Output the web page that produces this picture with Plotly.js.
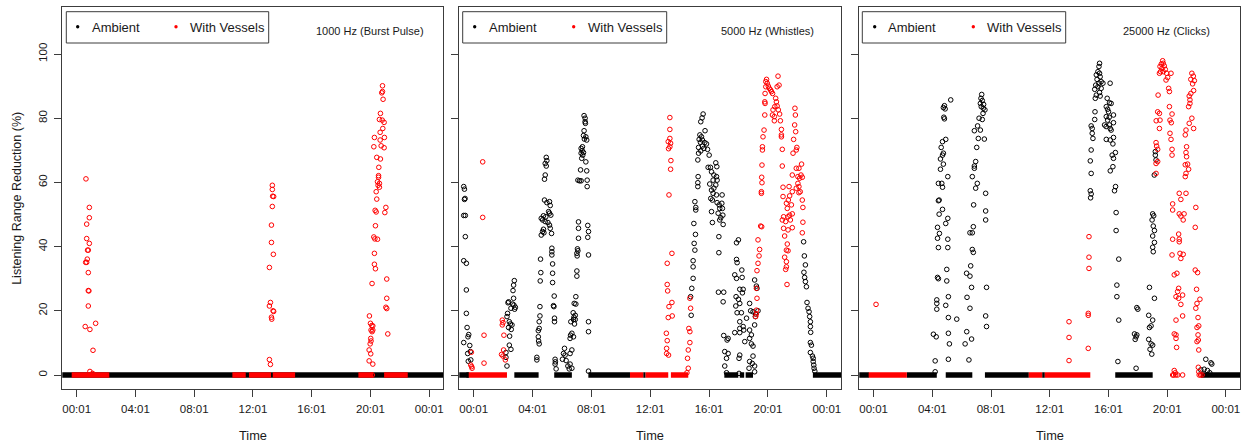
<!DOCTYPE html>
<html>
<head>
<meta charset="utf-8">
<script src="https://cdn.plot.ly/plotly-3.0.1.min.js"></script>
<style>
  html, body { margin: 0; padding: 0; background: #fff; }
  #chart { width: 1243px; height: 446px; }
</style>
</head>
<body>
<div id="chart"></div>
<script>
// Time axis: decimal hours of the day; values: listening range reduction (%)
const tickHours = [0.0167, 4.0167, 8.0167, 12.0167, 16.0167, 20.0167, 24.0167];
const tickLabels = ['00:01', '04:01', '08:01', '12:01', '16:01', '20:01', '00:01'];
const yTicks = [0, 20, 40, 60, 80, 100];
const panelTitles = ['1000 Hz (Burst Pulse)', '5000 Hz (Whistles)', '25000 Hz (Clicks)'];
const seriesNames = ['Ambient', 'With Vessels'];

// ---- 1000 Hz (burst pulse) ----
// stretches of time where the reduction stays at 0 %, as [start, end] hours
const burstAmbientZero = [[-1, 25]];
const burstVesselZero = [[-0.32, 2.24], [10.62, 11.53], [11.75, 13.25], [13.37, 14.89], [19.2, 20.22], [20.95, 22.56]];
const burstAmbientPts = [];
const burstVesselPts = [
  [0.65, 61.1], [0.88, 52.2], [0.88, 49.0], [0.70, 47.0], [0.70, 42.5], [0.88, 41.0], [0.76, 38.9], [0.81, 38.9],
  [0.74, 36.1], [0.63, 35.1], [0.70, 35.1], [0.81, 31.9], [0.81, 26.3], [0.85, 26.2], [0.81, 21.5], [0.60, 15.1],
  [0.92, 14.2], [1.31, 16.1], [1.13, 7.7], [0.92, 1.1], [1.10, 0.5],
  [13.34, 59.1], [13.34, 57.8], [13.36, 55.7], [13.43, 55.6], [13.34, 52.5], [13.28, 46.7], [13.28, 41.3],
  [13.41, 37.6], [13.14, 33.5], [13.21, 22.6], [13.14, 21.5], [13.39, 20.0], [13.43, 19.8], [13.28, 18.0],
  [13.30, 17.4], [13.14, 4.8], [13.21, 3.3],
  [20.84, 90.1], [20.84, 88.3], [20.79, 87.9], [20.88, 85.9], [20.70, 81.5], [20.63, 79.6], [20.82, 79.4],
  [20.95, 78.7], [20.86, 76.8], [20.68, 75.6], [20.29, 74.0], [20.97, 74.0], [20.68, 73.2], [20.25, 71.1],
  [20.75, 71.4], [20.95, 70.8], [20.45, 67.8], [20.70, 67.3], [20.59, 64.7], [20.57, 62.1], [20.57, 61.6],
  [20.50, 60.2], [20.63, 59.7], [20.54, 59.1], [20.63, 58.5], [20.41, 57.1], [20.45, 54.8], [21.07, 52.2],
  [20.34, 51.3], [20.41, 50.8], [21.00, 50.6], [20.36, 46.5], [20.25, 43.0], [20.32, 42.4], [20.50, 42.3],
  [20.29, 37.9], [20.29, 34.5], [20.36, 33.1], [21.13, 29.9], [20.13, 28.5], [21.13, 23.9], [21.07, 21.1],
  [21.13, 20.7], [19.95, 18.4], [20.02, 16.1], [20.11, 15.4], [20.18, 15.3], [20.06, 14.0], [20.13, 13.5],
  [20.18, 14.0], [21.20, 12.8], [20.04, 11.4], [20.06, 10.6], [20.00, 9.7], [19.93, 7.8], [20.04, 6.6],
  [19.93, 4.4], [20.18, 3.4], [20.15, 0.0]
];

// ---- 5000 Hz (whistles) ----
const whistleAmbientZero = [[-1, -0.3], [2.78, 4.43], [5.49, 6.69], [7.81, 10.64], [11.54, 11.70], [17.05, 18.0], [18.1, 18.4], [18.5, 19.0], [23.07, 25]];
const whistleVesselZero = [[-0.32, 2.28], [10.64, 11.54], [11.70, 13.24], [13.42, 14.60]];
const whistleAmbientPts = [
  [-0.66, 58.7], [-0.61, 57.9], [-0.57, 55.0], [-0.61, 54.7], [-0.66, 49.7], [-0.55, 49.7], [-0.55, 43.1],
  [-0.66, 35.6], [-0.48, 34.8], [-0.48, 26.5], [-0.48, 19.2], [-0.43, 14.8], [-0.32, 12.6], [-0.37, 11.9],
  [-0.66, 10.1], [-0.25, 9.2], [-0.39, 6.7], [-0.21, 7.3], [-0.35, 4.3], [-0.18, 4.7], [-0.39, 0.0],
  [2.78, 29.4], [2.73, 28.0], [2.69, 26.3], [2.73, 23.9], [2.66, 22.1], [2.75, 21.8], [2.85, 21.1], [2.80, 20.5],
  [2.55, 20.8], [2.35, 22.5], [2.39, 22.8], [2.32, 19.2], [2.28, 18.2], [2.44, 16.6], [2.51, 15.9], [2.62, 15.6],
  [2.39, 14.8], [2.57, 14.2], [2.46, 12.1], [2.44, 9.3], [2.55, 8.0], [2.21, 7.0], [2.21, 5.5], [2.28, 2.8],
  [4.95, 67.8], [4.99, 66.8], [4.88, 65.9], [4.95, 65.1], [4.88, 62.3], [4.83, 61.0], [4.83, 54.5], [4.99, 53.7],
  [5.17, 54.0], [5.22, 52.8], [5.11, 50.9], [5.17, 50.4], [4.76, 49.6], [4.92, 49.3], [4.61, 48.8], [4.70, 48.3],
  [4.88, 47.8], [5.06, 47.5], [5.26, 49.8], [5.17, 46.7], [4.76, 45.4], [4.70, 44.7], [5.22, 45.7], [4.61, 43.6],
  [4.79, 44.3], [5.31, 44.1], [5.33, 39.5], [5.33, 38.4], [5.33, 37.4], [5.38, 34.6], [5.38, 31.7], [5.38, 28.8],
  [5.49, 24.6], [5.44, 21.6], [5.47, 21.3], [5.51, 17.7], [5.51, 16.6], [4.56, 36.1], [4.58, 31.9], [4.54, 29.3],
  [4.52, 21.3], [4.52, 18.4], [4.47, 16.6], [4.47, 14.5], [4.41, 13.8], [4.41, 11.9], [4.43, 10.6], [4.47, 9.7],
  [4.31, 5.5], [4.31, 4.7], [5.55, 4.9], [5.57, 4.1], [5.55, 3.4], [5.62, 1.9],
  [7.52, 80.8], [7.59, 80.0], [7.59, 78.9], [7.61, 78.4], [7.52, 76.1], [7.48, 74.6], [7.64, 74.2], [7.54, 73.5],
  [7.70, 73.2], [7.41, 71.1], [7.32, 70.6], [7.39, 69.9], [7.32, 69.1], [7.48, 69.3], [7.43, 68.5], [7.36, 67.5],
  [7.64, 66.4], [7.28, 63.9], [7.70, 63.6], [7.10, 60.7], [7.21, 60.5], [7.32, 60.5], [7.73, 60.7], [7.73, 58.7],
  [7.14, 47.7], [7.14, 45.7], [7.77, 46.6], [7.82, 44.7], [7.77, 42.9], [7.14, 42.6], [7.07, 39.3], [7.10, 38.7],
  [7.03, 37.9], [7.05, 37.1], [7.82, 37.4], [7.03, 32.4], [7.03, 30.8], [6.96, 24.4], [6.85, 22.3], [6.96, 22.1],
  [6.78, 19.4], [6.92, 18.6], [6.83, 18.0], [6.80, 17.3], [6.92, 17.3], [6.62, 16.6], [6.87, 15.9], [6.69, 13.0],
  [6.60, 12.4], [6.80, 11.9], [6.57, 11.4], [6.69, 7.8], [6.57, 6.7], [6.19, 8.3], [6.12, 6.7], [6.23, 6.2],
  [6.05, 4.9], [6.30, 4.5], [6.57, 3.4], [6.42, 2.8], [6.51, 1.9], [6.69, 2.1], [7.82, 16.6], [7.82, 13.5], [7.82, 1.2],
  [15.61, 81.3], [15.54, 80.1], [15.45, 78.9], [15.74, 76.1], [15.39, 74.8], [15.50, 74.2], [15.34, 73.4],
  [15.56, 73.2], [15.43, 72.5], [15.72, 72.4], [15.84, 72.0], [15.56, 71.3], [15.30, 70.9], [15.66, 70.6],
  [15.91, 70.3], [15.45, 69.8], [16.02, 68.5], [15.30, 69.1], [15.25, 67.0], [15.95, 64.7], [16.11, 64.7],
  [16.47, 66.1], [16.54, 64.9], [15.27, 61.8], [16.18, 63.3], [16.34, 62.3], [16.52, 61.8], [16.29, 60.7],
  [16.56, 60.7], [15.25, 59.9], [16.06, 59.5], [16.47, 59.2], [15.25, 58.7], [16.18, 57.6], [16.34, 58.2],
  [16.29, 56.6], [16.90, 56.1], [16.52, 56.1], [16.13, 55.0], [16.24, 54.5], [16.56, 53.7], [15.05, 54.0],
  [16.70, 53.0], [16.88, 53.5], [15.11, 52.2], [15.11, 51.4], [16.74, 51.9], [16.92, 51.9], [16.18, 50.9],
  [16.63, 50.4], [16.95, 49.8], [16.81, 49.0], [16.74, 48.3], [16.24, 47.5], [16.97, 46.9], [14.98, 47.2],
  [15.09, 43.8], [15.00, 41.0], [16.68, 43.1], [16.68, 38.1], [15.05, 38.9], [14.93, 35.6], [14.93, 33.7],
  [14.93, 30.1], [14.84, 27.0], [14.76, 24.4], [14.80, 18.6], [16.65, 25.8], [17.01, 25.8], [16.97, 22.8],
  [18.01, 42.1], [17.88, 41.2], [17.88, 36.0], [17.92, 35.0], [18.24, 32.7], [17.76, 31.2], [17.88, 30.1],
  [18.26, 30.4], [18.10, 26.7], [18.33, 26.7], [18.28, 25.6], [17.85, 24.4], [18.01, 23.6], [18.10, 22.3],
  [17.83, 21.5], [18.77, 22.3], [18.84, 20.0], [18.21, 19.4], [17.92, 19.4], [19.16, 18.2], [18.10, 16.6],
  [18.56, 17.7], [19.11, 15.6], [18.33, 15.1], [18.10, 14.5], [18.37, 14.0], [18.77, 14.0], [17.76, 13.2],
  [18.10, 13.2], [18.89, 12.5], [17.01, 12.3], [17.31, 11.4], [17.24, 10.9], [18.77, 11.4], [18.44, 10.4],
  [18.89, 9.7], [19.00, 9.0], [17.08, 7.3], [17.31, 6.7], [18.10, 6.2], [17.20, 5.2], [18.05, 5.2], [19.00, 5.9],
  [18.77, 4.2], [18.95, 3.6], [17.08, 2.8], [18.73, 2.1], [19.11, 2.8], [17.20, 0.7], [18.05, 0.5], [19.11, 1.0],
  [19.11, 29.6], [19.23, 27.7], [19.27, 27.0], [19.00, 19.7], [19.34, 20.0], [19.18, 19.0],
  [22.44, 41.5], [22.49, 37.1], [22.56, 34.3], [22.46, 32.0], [22.51, 30.4], [22.56, 29.1], [22.63, 27.5],
  [22.67, 22.6], [22.74, 20.8], [22.81, 19.7], [22.85, 18.2], [22.90, 16.6], [22.90, 15.1], [22.92, 13.3],
  [22.90, 10.1], [22.97, 9.3], [22.90, 7.0], [23.04, 5.9], [23.09, 5.2], [23.09, 4.2], [23.13, 3.1],
  [23.15, 2.1], [23.20, 1.2]
];
const whistleVesselPts = [
  [-0.14, 7.1], [-0.18, 3.1], [-0.12, 2.6], [-0.09, 2.1], [0.63, 66.4], [0.63, 49.1], [0.72, 12.4], [0.72, 3.7],
  [1.96, 17.1], [2.01, 16.3], [1.96, 15.6], [2.07, 12.4], [2.05, 7.8], [1.91, 6.4], [2.01, 5.9], [2.17, 4.7],
  [13.35, 80.2], [13.35, 76.5], [13.35, 73.7], [13.24, 72.7], [13.40, 72.2], [13.35, 71.1], [13.26, 70.5],
  [13.42, 66.8], [13.40, 64.1], [13.29, 56.1], [13.49, 37.9], [13.17, 34.8], [13.17, 28.2], [13.20, 26.2],
  [13.49, 22.6], [13.29, 21.3], [13.51, 18.4], [13.24, 17.9], [13.11, 13.0], [13.17, 10.7], [13.13, 8.3],
  [13.13, 6.7], [13.26, 6.2],
  [14.71, 23.9], [14.76, 20.8], [14.64, 14.5], [14.71, 13.5], [14.71, 10.1], [14.60, 7.8], [14.55, 5.2],
  [14.60, 2.1], [14.51, 0.7],
  [19.92, 92.1], [19.87, 91.4], [19.97, 90.9], [20.04, 90.0], [20.11, 89.3], [20.20, 88.8], [20.25, 88.3],
  [20.33, 87.7], [20.70, 93.1], [20.77, 90.3], [20.64, 89.8], [19.87, 89.8], [19.82, 87.7], [19.80, 85.1],
  [19.82, 84.6], [20.54, 86.2], [20.59, 85.1], [20.64, 83.8], [20.48, 83.6], [20.36, 82.6], [20.72, 82.6],
  [20.32, 81.0], [20.45, 80.5], [20.81, 81.3], [20.45, 79.2], [19.80, 81.0], [20.86, 79.2], [21.85, 83.1],
  [21.88, 81.0], [21.83, 77.9], [21.90, 75.8], [19.75, 76.3], [19.68, 74.2], [20.93, 76.5], [20.93, 74.8],
  [20.93, 74.2], [21.76, 73.4], [21.98, 70.9], [21.94, 70.1], [19.64, 71.1], [19.64, 70.1], [20.99, 70.3],
  [21.72, 69.1], [19.61, 65.4], [20.99, 65.1], [22.30, 65.7], [21.94, 64.4], [22.12, 64.4], [22.26, 62.3],
  [22.05, 61.8], [22.17, 61.3], [22.35, 61.6], [21.67, 62.3], [19.59, 61.6], [19.61, 59.9], [22.05, 59.7],
  [22.12, 58.7], [21.04, 58.5], [21.45, 58.7], [21.94, 58.2], [21.67, 57.1], [22.21, 57.1], [21.04, 55.6],
  [21.49, 55.8], [22.12, 56.8], [19.57, 57.1], [19.57, 56.6], [21.40, 54.5], [22.35, 54.5], [21.27, 53.5],
  [21.61, 53.0], [21.33, 51.9], [22.39, 52.2], [21.08, 49.3], [21.38, 49.3], [21.49, 49.8], [21.67, 50.2],
  [20.99, 48.3], [21.22, 47.8], [21.54, 48.3], [22.39, 47.6], [19.59, 46.2], [19.52, 46.4], [21.08, 45.7],
  [21.38, 45.2], [21.67, 45.9], [21.15, 43.3], [22.35, 44.3], [21.33, 40.8], [19.34, 42.1], [21.27, 38.9],
  [21.38, 38.7], [19.45, 39.1], [19.41, 37.1], [21.15, 36.7], [21.27, 35.3], [21.27, 33.7], [21.22, 32.9],
  [21.31, 28.2], [19.34, 34.8], [19.27, 32.5], [19.23, 27.0], [19.27, 23.9], [19.23, 20.2], [19.23, 19.0],
  [19.18, 18.2]
];

// ---- 25000 Hz (clicks) ----
const clickAmbientZero = [[-1, -0.3], [2.28, 4.32], [4.93, 6.74], [7.60, 10.59], [11.50, 11.68], [16.48, 19.03], [22.32, 25]];
const clickVesselZero = [[-0.32, 2.28], [10.59, 11.50], [11.68, 14.78]];
const clickAmbientPts = [
  [5.27, 85.7], [4.84, 83.9], [4.77, 83.3], [4.89, 82.9], [4.80, 80.3], [4.84, 79.8], [4.93, 73.4], [4.71, 72.7],
  [4.62, 70.9], [4.77, 69.1], [4.71, 68.5], [4.57, 67.3], [4.77, 65.7], [4.57, 64.1], [5.07, 61.8], [4.43, 59.7],
  [4.66, 59.7], [4.71, 58.5], [4.48, 54.5], [4.43, 54.3], [4.71, 51.6], [5.07, 48.8], [4.48, 50.1], [4.93, 47.2],
  [4.37, 46.0], [4.50, 44.1], [5.07, 42.3], [4.37, 42.6], [4.43, 39.7], [5.07, 39.7], [5.00, 32.9], [4.37, 30.4],
  [4.43, 30.0], [5.00, 29.3], [5.11, 24.4], [4.32, 23.4], [4.32, 22.3], [4.93, 21.7], [4.32, 20.5], [5.11, 17.9],
  [5.68, 17.4], [4.09, 12.7], [4.28, 11.9], [5.11, 13.0], [5.18, 9.7], [4.21, 4.4], [5.11, 4.9], [4.21, 1.0],
  [7.38, 87.4], [7.33, 86.2], [7.42, 85.5], [7.29, 84.6], [7.51, 84.3], [7.35, 83.6], [7.49, 83.1], [7.60, 82.6],
  [7.47, 81.5], [7.20, 80.0], [7.42, 79.6], [7.10, 77.6], [7.29, 76.3], [6.88, 76.1], [7.15, 73.7], [7.56, 73.5],
  [7.04, 70.9], [6.97, 66.5], [6.88, 65.1], [6.88, 64.4], [6.74, 61.8], [7.08, 59.7], [6.97, 58.2], [7.65, 56.6],
  [6.83, 53.0], [7.65, 51.1], [7.65, 48.3], [6.81, 46.2], [6.58, 44.3], [6.74, 44.3], [6.74, 39.1], [6.81, 38.2],
  [6.63, 34.0], [6.35, 31.7], [6.58, 30.8], [6.69, 27.3], [7.71, 27.3], [6.38, 24.2], [6.58, 20.8], [7.65, 18.4],
  [7.71, 15.1], [6.36, 13.5], [6.69, 11.2], [6.25, 9.7], [6.51, 4.7],
  [15.41, 97.1], [15.37, 96.1], [15.30, 94.5], [15.41, 94.0], [15.19, 93.5], [15.45, 92.9], [15.24, 92.1],
  [15.52, 91.4], [15.37, 90.9], [15.64, 90.9], [15.15, 90.3], [16.13, 90.9], [15.30, 89.8], [15.52, 89.3],
  [15.08, 89.0], [15.41, 88.0], [15.19, 87.2], [15.45, 86.9], [15.93, 86.2], [15.12, 86.2], [16.09, 84.8],
  [16.20, 84.6], [15.87, 83.6], [15.96, 82.8], [15.10, 82.0], [16.02, 82.0], [16.36, 81.0], [15.87, 80.5],
  [16.07, 80.3], [15.08, 79.6], [15.96, 79.4], [16.36, 78.6], [15.75, 77.9], [16.09, 77.9], [14.84, 77.6],
  [14.91, 76.8], [15.86, 77.4], [16.14, 76.8], [14.91, 75.3], [16.20, 76.3], [16.36, 74.0], [14.96, 73.7],
  [15.87, 73.4], [16.14, 73.2], [16.32, 72.0], [14.84, 70.1], [16.49, 69.3], [16.27, 68.5], [16.36, 67.5],
  [14.78, 66.7], [16.32, 64.9], [16.14, 63.6], [14.84, 62.8], [16.50, 58.7], [16.43, 57.4], [14.78, 57.4],
  [14.84, 56.4], [14.80, 55.2], [16.54, 50.6], [16.54, 45.0], [16.72, 36.1], [16.59, 28.0], [16.59, 24.4],
  [16.72, 17.1], [16.66, 4.2],
  [17.95, 21.0], [18.02, 20.5], [17.79, 12.8], [17.90, 11.9], [17.95, 12.5], [17.84, 11.1], [17.90, 2.1],
  [19.03, 50.2], [19.10, 49.6], [18.99, 48.3], [19.07, 46.4], [19.15, 45.0], [19.03, 43.3], [19.15, 41.3],
  [19.03, 39.8], [19.07, 38.4], [19.21, 69.6], [19.21, 68.5], [19.26, 67.0], [19.14, 62.3], [18.81, 27.3],
  [19.15, 23.9], [18.76, 18.6], [19.03, 17.1], [18.92, 15.3], [18.81, 14.8], [18.76, 11.1], [18.92, 9.7],
  [19.03, 9.3], [18.85, 8.0], [18.97, 6.5],
  [22.65, 4.9], [23.00, 3.8], [23.06, 3.4], [22.54, 1.8], [22.76, 1.4], [22.31, 1.6], [22.92, 0.7]
];
const clickVesselPts = [
  [0.18, 22.0],
  [13.33, 16.6], [13.33, 11.7], [13.33, 4.5], [14.69, 43.1], [14.69, 36.7], [14.69, 33.2], [14.64, 19.2],
  [14.64, 18.6], [14.64, 8.3],
  [19.71, 97.9], [19.75, 97.1], [19.62, 96.9], [19.82, 96.3], [19.53, 96.1], [19.66, 95.5], [19.89, 95.2],
  [19.57, 94.5], [19.75, 94.5], [19.98, 94.0], [20.28, 94.0], [19.49, 94.0], [20.05, 92.7], [19.94, 91.9],
  [21.70, 94.0], [21.80, 93.1], [21.63, 92.1], [21.87, 91.7], [21.75, 90.7], [20.12, 89.3], [20.17, 88.3],
  [21.82, 88.6], [21.63, 87.7], [19.40, 87.2], [21.52, 86.9], [21.57, 85.7], [21.57, 84.6], [21.48, 83.6],
  [20.17, 83.6], [19.37, 82.0], [19.49, 81.5], [20.35, 81.3], [19.53, 79.4], [19.27, 79.2], [20.21, 79.4],
  [20.30, 78.6], [21.70, 80.0], [21.52, 78.4], [21.82, 76.8], [19.49, 76.8], [21.30, 76.3], [20.21, 75.3],
  [21.25, 74.8], [20.28, 73.4], [19.26, 72.4], [19.30, 71.3], [21.34, 71.1], [20.35, 70.3], [19.37, 70.3],
  [20.35, 68.5], [21.30, 69.3], [21.34, 68.0], [19.37, 66.5], [19.26, 65.9], [21.41, 65.7], [21.25, 65.5],
  [21.48, 64.1], [19.26, 62.8], [21.30, 62.8], [21.25, 61.8], [20.84, 56.6], [21.30, 56.6], [20.95, 54.7],
  [20.39, 53.3], [21.97, 52.2], [20.39, 51.4], [20.84, 50.2], [20.95, 49.5], [21.17, 50.2], [21.11, 48.3],
  [21.93, 46.0], [20.80, 43.9], [20.84, 42.3], [20.39, 42.3], [20.84, 41.5], [20.35, 37.4], [20.89, 37.9],
  [21.11, 37.6], [20.95, 36.3], [21.93, 32.7], [22.09, 31.9], [20.50, 31.2], [20.68, 31.7], [20.80, 27.0],
  [20.73, 26.0], [22.02, 26.7], [21.07, 24.9], [20.62, 24.4], [20.80, 23.9], [22.25, 23.6], [20.95, 22.0],
  [22.05, 22.3], [21.97, 20.8], [21.07, 18.4], [22.12, 17.9], [20.62, 17.1], [22.17, 15.3], [22.05, 14.8],
  [20.50, 12.8], [20.62, 12.5], [22.12, 12.5], [20.62, 11.4], [22.14, 10.9], [22.05, 10.4], [22.17, 7.8],
  [20.66, 8.6], [22.14, 2.4], [20.50, 1.4], [20.57, 0.7], [22.17, 1.0],
  [20.39, 0.0], [20.46, 0.0], [20.60, 0.0], [20.73, 0.0], [21.07, 0.0], [22.20, 0.0], [22.30, 0.0], [22.40, 0.0]
];

const panels = [
  { ambientZero: burstAmbientZero, vesselZero: burstVesselZero, ambient: burstAmbientPts, vessel: burstVesselPts },
  { ambientZero: whistleAmbientZero, vesselZero: whistleVesselZero, ambient: whistleAmbientPts, vessel: whistleVesselPts },
  { ambientZero: clickAmbientZero, vesselZero: clickVesselZero, ambient: clickAmbientPts, vessel: clickVesselPts }
];

// ---- drawing ----
const W = 1243, H = 446;
const px = v => v / W;          // pixel -> paper x
const py = v => 1 - v / H;      // pixel -> paper y
const AMB = '#000000', VES = '#ff0000';
const FRAME = '#3c3c3c', TEXT = '#1a1a1a';
const FONT = 'Liberation Sans, Arial, sans-serif';

// plot frames in pixels: left, right, top, bottom
const frames = [[62.3, 443.3], [459.3, 841.0], [859.3, 1240.0]];
const frameTop = 7.3, frameBottom = 389;
// legend boxes and labels, in pixels
const legendBoxes = [[66.3, 268.7], [462.7, 666.7], [862.3, 1065.7]];
const legendDots = [[77.7, 176.0], [474.7, 573.7], [874.7, 973.3]];
const legendText = [[90.0, 188.3], [486.7, 585.7], [886.0, 985.0]];
const titleCenters = [370, 767.5, 1166];

function bandXY(intervals) {
  const x = [], y = [];
  intervals.forEach(([a, b]) => { x.push(a, b, null); y.push(0, 0, null); });
  return { x, y };
}

const traces = [];
const layout = {
  width: W, height: H,
  margin: { l: 0, r: 0, t: 0, b: 0 },
  paper_bgcolor: '#fff', plot_bgcolor: '#fff',
  showlegend: false,
  font: { family: FONT, color: TEXT },
  shapes: [], annotations: []
};

panels.forEach((p, i) => {
  const sfx = i === 0 ? '' : String(i + 1);
  const xa = 'x' + sfx, ya = 'y' + sfx;
  const marker = c => ({ symbol: 'circle-open', size: 4.6, color: c, line: { width: 1, color: c } });

  const ab = bandXY(p.ambientZero);
  traces.push({ type: 'scatter', mode: 'lines', x: ab.x, y: ab.y, xaxis: xa, yaxis: ya,
    line: { color: AMB, width: 5.5 }, name: seriesNames[0], hoverinfo: 'skip' });
  traces.push({ type: 'scatter', mode: 'markers', x: p.ambient.map(d => d[0]), y: p.ambient.map(d => d[1]),
    xaxis: xa, yaxis: ya, marker: marker(AMB), name: seriesNames[0] });
  const vb = bandXY(p.vesselZero);
  traces.push({ type: 'scatter', mode: 'lines', x: vb.x, y: vb.y, xaxis: xa, yaxis: ya,
    line: { color: VES, width: 5.5 }, name: seriesNames[1], hoverinfo: 'skip' });
  traces.push({ type: 'scatter', mode: 'markers', x: p.vessel.map(d => d[0]), y: p.vessel.map(d => d[1]),
    xaxis: xa, yaxis: ya, marker: marker(VES), name: seriesNames[1] });

  const [l, r] = frames[i];
  layout['xaxis' + sfx] = {
    domain: [px(l), px(r)], anchor: ya, range: [-0.96, 24.98],
    showgrid: false, zeroline: false, showline: true, mirror: true,
    linecolor: FRAME, linewidth: 1, ticks: 'outside', ticklen: 7, tickcolor: FRAME,
    tickvals: tickHours, ticktext: tickLabels,
    tickfont: { family: FONT, size: 11.5, color: TEXT }, ticklabelstandoff: 2
  };
  layout['yaxis' + sfx] = {
    domain: [py(frameBottom), py(frameTop)], anchor: xa, range: [-4.36, 114.55],
    showgrid: false, zeroline: false, showline: true, mirror: true,
    linecolor: FRAME, linewidth: 1, ticks: 'outside', ticklen: 7, tickcolor: FRAME,
    tickvals: yTicks, showticklabels: i === 0, tickangle: -90,
    tickfont: { family: FONT, size: 11.5, color: TEXT }, ticklabelstandoff: 3
  };

  // legend box
  const [bl, br] = legendBoxes[i];
  layout.shapes.push({ type: 'rect', xref: 'paper', yref: 'paper',
    x0: px(bl), x1: px(br), y0: py(43), y1: py(11.7), line: { color: FRAME, width: 1 } });
  [AMB, VES].forEach((c, k) => {
    const cx = legendDots[i][k];
    layout.shapes.push({ type: 'circle', xref: 'paper', yref: 'paper',
      x0: px(cx - 1.7), x1: px(cx + 1.7), y0: py(28.4), y1: py(25), fillcolor: c, line: { color: c, width: 0 } });
    layout.annotations.push({ xref: 'paper', yref: 'paper', x: px(legendText[i][k]), y: py(27.6),
      xanchor: 'left', yanchor: 'middle', text: seriesNames[k], showarrow: false,
      font: { family: FONT, size: 13, color: TEXT } });
  });

  // frequency label
  layout.annotations.push({ xref: 'paper', yref: 'paper', x: px(titleCenters[i]), y: py(31),
    xanchor: 'center', yanchor: 'middle', text: panelTitles[i], showarrow: false,
    font: { family: FONT, size: 11, color: TEXT } });

  // x axis title
  layout.annotations.push({ xref: 'paper', yref: 'paper', x: px((l + r) / 2), y: py(435),
    xanchor: 'center', yanchor: 'middle', text: 'Time', showarrow: false,
    font: { family: FONT, size: 12.8, color: TEXT } });
});

// y axis title
layout.annotations.push({ xref: 'paper', yref: 'paper', x: px(16.7), y: py((frameTop + frameBottom) / 2),
  xanchor: 'center', yanchor: 'middle', text: 'Listening Range Reduction (%)', textangle: -90, showarrow: false,
  font: { family: FONT, size: 12.5, color: TEXT } });

Plotly.newPlot('chart', traces, layout, { displayModeBar: false, staticPlot: true });
</script>
</body>
</html>
